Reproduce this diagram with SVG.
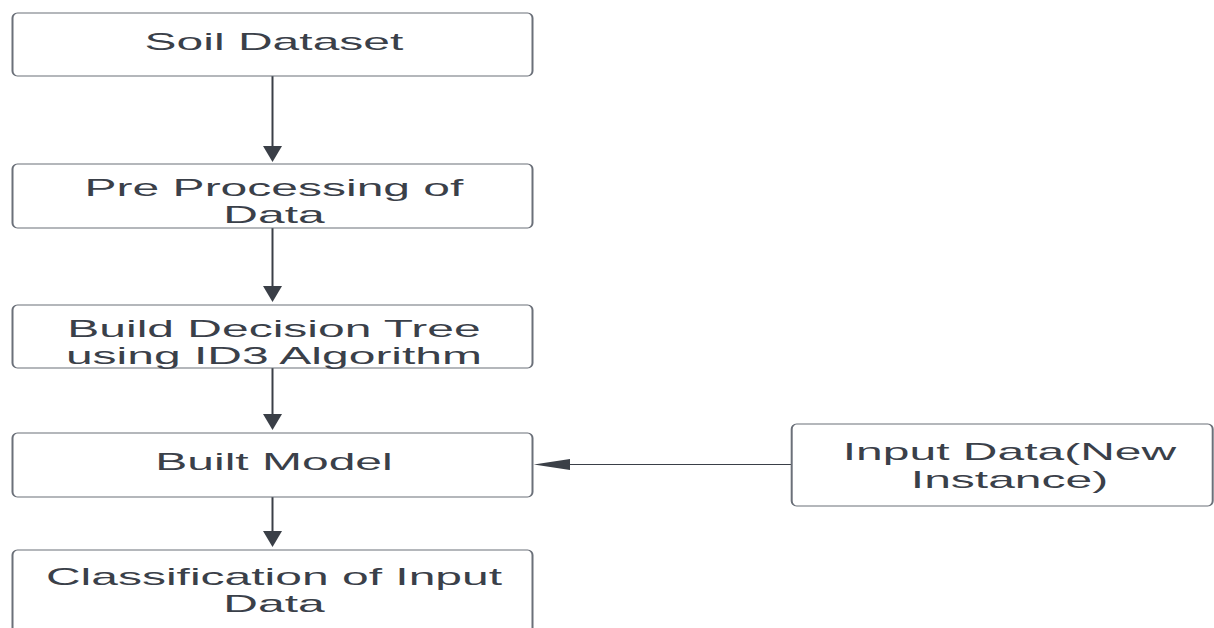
<svg xmlns="http://www.w3.org/2000/svg" width="1214" height="628" viewBox="0 0 1214 628">
<style>
.box{fill:#ffffff;stroke:#6b7079;stroke-width:1}
.lbl{font-family:"Liberation Sans",Arial,sans-serif;font-size:24px;fill:#3a4049;text-anchor:middle}
.ln{stroke:#3a3f47;stroke-width:1;fill:none}
.hd{fill:#3a3f47;stroke:none}
</style>
<rect width="1214" height="628" fill="#ffffff"/>
<g transform="scale(2,1)">
<g id="connectors">
<line class="ln" x1="136.25" y1="76" x2="136.25" y2="147"/>
<polygon class="hd" points="131.5,146 141,146 136.25,162"/>
<line class="ln" x1="136.25" y1="228" x2="136.25" y2="287"/>
<polygon class="hd" points="131.5,286 141,286 136.25,302"/>
<line class="ln" x1="136.25" y1="368" x2="136.25" y2="415"/>
<polygon class="hd" points="131.5,414 141,414 136.25,430"/>
<line class="ln" x1="136.25" y1="497" x2="136.25" y2="532"/>
<polygon class="hd" points="131.5,531 141,531 136.25,547"/>
<line class="ln" x1="395.85" y1="464.5" x2="284" y2="464.5"/>
<polygon class="hd" points="285,459 285,470 266.9,464.5"/>
</g>
<g id="soil-dataset">
<rect class="box" x="6.25" y="13" width="260" height="63" rx="2.5" ry="5"/>
<text class="lbl" x="137" y="50">Soil Dataset</text>
</g>
<g id="pre-processing">
<rect class="box" x="6.25" y="164" width="260" height="64" rx="2.5" ry="5"/>
<text class="lbl" x="137" y="196">Pre Processing of</text>
<text class="lbl" x="137" y="223">Data</text>
</g>
<g id="build-tree">
<rect class="box" x="6.25" y="305" width="260" height="63" rx="2.5" ry="5"/>
<text class="lbl" x="137" y="337">Build Decision Tree</text>
<text class="lbl" x="137" y="364">using ID3 Algorithm</text>
</g>
<g id="built-model">
<rect class="box" x="6.25" y="433" width="260" height="64" rx="2.5" ry="5"/>
<text class="lbl" x="137" y="470">Built Model</text>
</g>
<g id="classification">
<rect class="box" x="6.25" y="550" width="260" height="90" rx="2.5" ry="5"/>
<text class="lbl" x="137" y="585">Classification of Input</text>
<text class="lbl" x="137" y="612">Data</text>
</g>
<g id="input-data">
<rect class="box" x="395.85" y="424" width="210.5" height="82" rx="2.5" ry="5"/>
<text class="lbl" x="504.75" y="460">Input Data(New</text>
<text class="lbl" x="504.75" y="488">Instance)</text>
</g>
</g>
</svg>
